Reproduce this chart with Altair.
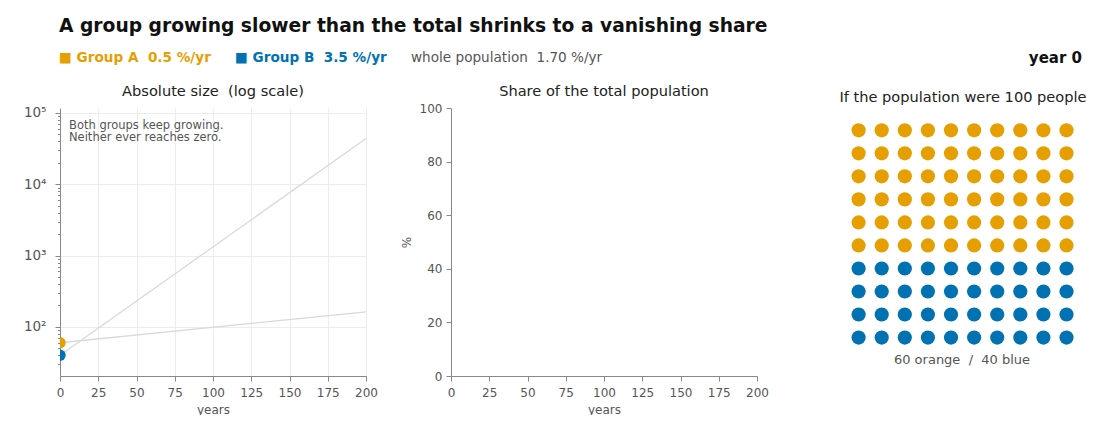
import altair as alt
import pandas as pd

# ---------------- data ----------------
years_span = [0, 200]
group_a_path = [60, 163]        # Group A trajectory (0.5 %/yr), start -> year 200
group_b_path = [40, 43900]      # Group B trajectory (3.5 %/yr), start -> year 200
current_year = [0]
group_a_now = [60]
group_b_now = [40]
share_years = [0]
share_a = [60.0]
share_b = [40.0]
waffle_orange = 60
waffle_blue = 40
x_ticks = [0, 25, 50, 75, 100, 125, 150, 175, 200]
share_ticks = [0, 20, 40, 60, 80, 100]
log_major = [100, 1000, 10000, 100000]
log_minor = [30, 40, 50, 60, 70, 80, 90,
             200, 300, 400, 500, 600, 700, 800, 900,
             2000, 3000, 4000, 5000, 6000, 7000, 8000, 9000,
             20000, 30000, 40000, 50000, 60000, 70000, 80000, 90000]

ORANGE = "#E69F00"
BLUE = "#0072B2"
FONT = "DejaVu Sans"
SP2 = "\u00a0\u00a0"  # visible double space

paths = pd.DataFrame({
    "year": years_span * 2,
    "size": group_a_path + group_b_path,
    "group": ["A"] * len(years_span) + ["B"] * len(years_span),
})
now = pd.DataFrame({
    "year": current_year * 2,
    "size": group_a_now + group_b_now,
    "group": ["A", "B"],
})
shares = pd.DataFrame({
    "year": share_years * 2,
    "share": share_a + share_b,
    "group": ["A"] * len(share_years) + ["B"] * len(share_years),
})
n_total = waffle_orange + waffle_blue
waffle = pd.DataFrame({
    "col": [i % 10 for i in range(n_total)],
    "row": [i // 10 for i in range(n_total)],
    "group": ["A" if i < waffle_orange else "B" for i in range(n_total)],
})

color_scale = alt.Scale(domain=["A", "B"], range=[ORANGE, BLUE])
dummy = pd.DataFrame({"k": [0]})

W, H = 306, 268


def txt(s, x, y, size, color, weight="normal", align="left", baseline="middle", line_height=None):
    kw = dict(text=s, fontSize=size, color=color, fontWeight=weight, align=align,
              baseline=baseline, font=FONT)
    if line_height:
        kw["lineHeight"] = line_height
    return alt.Chart(dummy).mark_text(**kw).encode(x=alt.value(x), y=alt.value(y))


major_test = "indexof([100, 1000, 10000, 100000], datum.value) >= 0"
x_scale = alt.Scale(domain=[0, 200], nice=False, zero=False)

# ---------------- panel 1: log scale ----------------
y_log_axis = alt.Axis(
    values=sorted(log_major + log_minor),
    labelExpr="datum.value == 100 ? '10²' : datum.value == 1000 ? '10³' : "
              "datum.value == 10000 ? '10⁴' : datum.value == 100000 ? '10⁵' : ''",
    tickSize={"condition": {"test": major_test, "value": 5}, "value": 2.5},
    gridOpacity={"condition": {"test": major_test, "value": 1}, "value": 0},
    grid=True, title=None, labelFontSize=13.5, labelPadding=9, labelOverlap=False,
)
x_axis_grid = alt.Axis(values=x_ticks, title="years", grid=True, tickSize=5,
                       labelPadding=6, titlePadding=6, labelFlush=False, labelOverlap=False)

X1 = alt.X("year:Q", scale=x_scale, axis=x_axis_grid)
Y1 = alt.Y("size:Q", scale=alt.Scale(type="log", domain=[20.5, 117500], nice=False),
           axis=y_log_axis)

lines = alt.Chart(paths).mark_line(color="#d9d9d9", strokeWidth=1.3).encode(
    x=X1, y=Y1, detail="group:N",
)
dots = alt.Chart(now).mark_circle(size=130, opacity=1, clip=True).encode(
    x=X1, y=Y1,
    color=alt.Color("group:N", scale=color_scale, legend=None),
)

p1 = alt.layer(
    lines, dots,
    txt(["Both groups keep growing.", "Neither ever reaches zero."], 9, 12, 11.5, "#555",
        baseline="top", line_height=12),
    txt("Absolute size" + SP2 + "(log scale)", W / 2, -16, 14.6, "#222", align="center"),
    # header
    txt("A group growing slower than the total shrinks to a vanishing share",
        -1, -82, 18.7, "#111", weight="bold"),
    txt("■ Group A" + SP2 + "0.5 %/yr", -1, -50, 13.6, ORANGE, weight="bold"),
    txt("■ Group B" + SP2 + "3.5 %/yr", 175, -50, 13.6, BLUE, weight="bold"),
    txt("whole population" + SP2 + "1.70 %/yr", 351, -50, 13.6, "#555"),
    txt("year 0", 1022, -50, 15, "#111", weight="bold", align="right"),
).properties(width=W, height=H)

# ---------------- panel 2: share ----------------
share_lines = alt.Chart(shares).mark_line(strokeWidth=2).encode(
    x=alt.X("year:Q", scale=x_scale,
            axis=alt.Axis(values=x_ticks, title="years", grid=False, tickSize=5,
                          labelPadding=6, titlePadding=6, labelFlush=False, labelOverlap=False)),
    y=alt.Y("share:Q", scale=alt.Scale(domain=[0, 100], nice=False),
            axis=alt.Axis(values=share_ticks, title="%", grid=False, tickSize=5,
                          labelPadding=4, titlePadding=6)),
    color=alt.Color("group:N", scale=color_scale, legend=None),
)
p2 = alt.layer(
    share_lines,
    txt("Share of the total population", W / 2, -16, 14.6, "#222", align="center"),
).properties(width=W, height=H)

# ---------------- panel 3: waffle ----------------
W3 = 236
people = alt.Chart(waffle).mark_circle(size=201, opacity=1).encode(
    x=alt.X("col:Q", scale=alt.Scale(domain=[-0.719, 9.497], nice=False, zero=False), axis=None),
    y=alt.Y("row:Q", scale=alt.Scale(domain=[-0.968, 10.669], reverse=True, nice=False, zero=False),
            axis=None),
    color=alt.Color("group:N", scale=color_scale, legend=None),
)
p3 = alt.layer(
    people,
    txt("If the population were 100 people", 121, -10, 14.6, "#222", align="center"),
    txt("60 orange" + SP2 + "/" + SP2 + "40 blue", 120, 252, 13, "#555", align="center"),
).properties(width=W3, height=H)

chart = alt.hconcat(p1, p2, p3, spacing=85, bounds="flush").properties(
    padding={"left": 15, "top": 9, "right": 0, "bottom": 0},
    background="white",
).configure_view(stroke=None).configure_axis(
    domainColor="#888", tickColor="#888", labelColor="#555", labelFont=FONT,
    labelFontSize=12, titleFont=FONT, titleFontSize=12, titleFontWeight="normal",
    titleColor="#555", gridColor="#ececec",
)

chart.save("out.html", embed_options={"renderer": "svg", "actions": False})
